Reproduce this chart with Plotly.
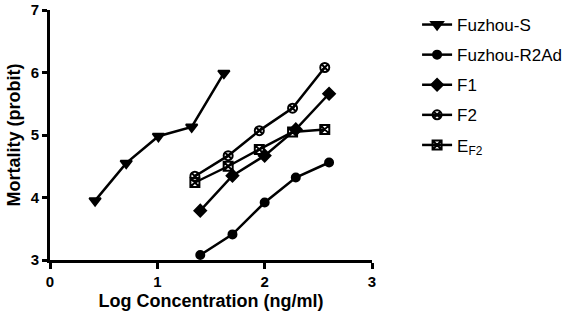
import plotly.graph_objects as go

names = ["Fuzhou-S", "Fuzhou-R2Ad", "F1", "F2", "E<sub>F2</sub>"]
x_s = [0.42, 0.71, 1.01, 1.32, 1.62]
y_s = [3.95, 4.55, 4.98, 5.13, 5.99]
x_r = [1.40, 1.70, 2.00, 2.29, 2.60]
y_r = [3.08, 3.41, 3.92, 4.32, 4.56]
x_f1 = [1.40, 1.70, 2.00, 2.29, 2.60]
y_f1 = [3.79, 4.35, 4.67, 5.09, 5.66]
x_f2 = [1.35, 1.66, 1.95, 2.26, 2.56]
y_f2 = [4.34, 4.67, 5.07, 5.43, 6.08]
x_e = [1.35, 1.66, 1.95, 2.26, 2.56]
y_e = [4.24, 4.50, 4.77, 5.05, 5.09]
x_ticks = [0, 1, 2, 3]
y_ticks = [3, 4, 5, 6, 7]

xs = [x_s, x_r, x_f1, x_f2, x_e]
ys = [y_s, y_r, y_f1, y_f2, y_e]
symbols = ["triangle-down", "circle", "diamond", "circle-x-open", "square-x-open"]
sizes = [10, 8, 9, 9, 9]

fig = go.Figure()
for i in range(5):
    fig.add_trace(go.Scatter(
        x=xs[i], y=ys[i], name=names[i], mode="lines+markers",
        legendgroup=f"g{i}",
        line=dict(color="black", width=2.5),
        marker=dict(symbol=symbols[i], size=sizes[i], color="black",
                    line=dict(color="black", width=2)),
    ))

fig.update_layout(
    width=566, height=328,
    margin=dict(l=50, r=194, t=10, b=68, autoexpand=False),
    paper_bgcolor="white", plot_bgcolor="white",
    font=dict(family="Liberation Sans, Arial", color="black"),
    legend=dict(x=1.14, y=1.012, xanchor="left", yanchor="top",
                font=dict(size=17), tracegroupgap=5, itemwidth=30),
    xaxis=dict(range=[0, 3], tickvals=x_ticks, ticktext=[f"<b>{v}</b>" for v in x_ticks],
               showline=True, linewidth=3, automargin=False,
               linecolor="black", ticks="outside", ticklen=6, tickwidth=3,
               tickcolor="black", showgrid=False, zeroline=False,
               tickfont=dict(size=15),
               title=dict(text="<b>Log Concentration (ng/ml)</b>", font=dict(size=18), standoff=6)),
    yaxis=dict(range=[3, 7], tickvals=y_ticks, ticktext=[f"<b>{v}</b>" for v in y_ticks],
               showline=True, linewidth=3, automargin=False,
               linecolor="black", ticks="outside", ticklen=5, tickwidth=3,
               tickcolor="black", showgrid=False, zeroline=False,
               tickfont=dict(size=15),
               title=dict(text="<b>Mortality (probit)</b>", font=dict(size=18), standoff=6)),
)
fig.write_html("out.html", config={"displayModeBar": False},
               post_script="document.body.style.margin='0';document.body.style.padding='0';")
